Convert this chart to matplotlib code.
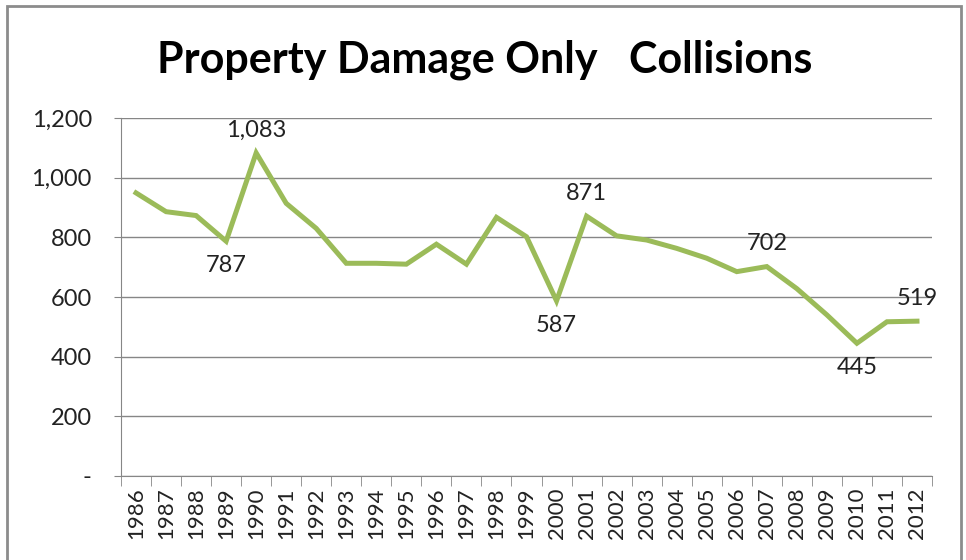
import matplotlib.pyplot as plt
import matplotlib.patches as patches

years = [str(y) for y in range(1986, 2013)]
collisions = [949, 886, 873, 787, 1083, 914, 830, 713, 713, 710, 777, 710, 867, 802,
              587, 871, 805, 791, 763, 730, 685, 702, 628, 540, 445, 517, 519]

# only some points get a label, like in the excel chart
label_years = {"1989": "below", "1990": "above", "2000": "below", "2001": "above",
               "2007": "above", "2010": "below", "2012": "above"}

yticks = [0, 200, 400, 600, 800, 1000, 1200]
ytick_labels = ["-", "200", "400", "600", "800", "1,000", "1,200"]

plt.rcParams['font.family'] = ['Lato', 'DejaVu Sans']

fig = plt.figure(figsize=(9.66, 5.6), dpi=100)
ax = fig.add_axes([121 / 966, 1 - 476 / 560, (932 - 121) / 966, (476 - 118) / 560])

x = list(range(len(years)))
ax.plot(x, collisions, color='#9BBB59', linewidth=3.6, solid_joinstyle='miter')

for i, yr in enumerate(years):
    if yr in label_years:
        v = collisions[i]
        txt = f"{v:,}"
        if label_years[yr] == "above":
            ax.annotate(txt, (i, v), xytext=(0, 9), textcoords='offset points',
                        ha='center', va='bottom', fontsize=17, color='#222222')
        else:
            ax.annotate(txt, (i, v), xytext=(0, -10), textcoords='offset points',
                        ha='center', va='top', fontsize=17, color='#222222')

ax.set_xlim(-0.5, len(years) - 0.5)
ax.set_ylim(0, 1200)
ax.set_yticks(yticks)
ax.set_yticklabels(ytick_labels, fontsize=17, color='#222222')
ax.set_xticks(x)
ax.set_xticklabels(years, rotation=90, fontsize=16, color='#222222')
ax.set_xticks([i - 0.5 for i in range(len(years) + 1)], minor=True)
ax.tick_params(axis='x', which='major', length=0, pad=8)
ax.tick_params(axis='x', which='minor', length=7, color='#868686', direction='out')
ax.tick_params(axis='y', length=5, color='#868686', pad=16)

ax.grid(axis='y', color='#868686', linewidth=1)
ax.set_axisbelow(True)
for s in ['top', 'right']:
    ax.spines[s].set_visible(False)
for s in ['left', 'bottom']:
    ax.spines[s].set_color('#868686')

fig.text(485 / 966, 1 - 60 / 560, "Property Damage Only   Collisions", ha='center', va='center',
         fontsize=31, fontweight='bold', color='black')

fig.patches.append(patches.Rectangle((7 / 966, -0.05), (961 - 7) / 966, 1.05 - 6 / 560,
                                     transform=fig.transFigure, fill=False,
                                     edgecolor='#8c8c8c', linewidth=2))

fig.savefig("out.png", dpi=100)
